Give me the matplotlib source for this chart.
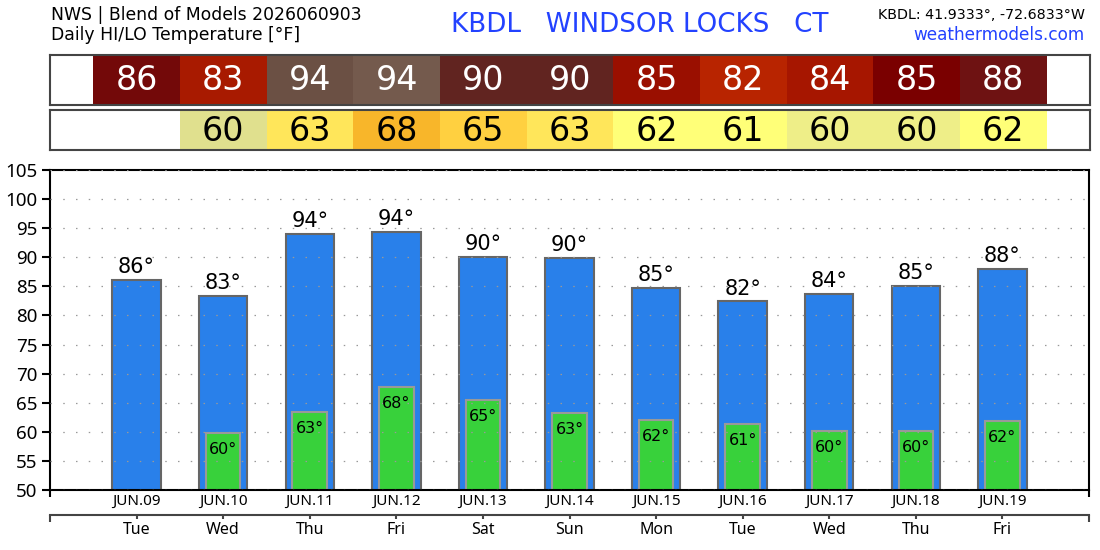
import matplotlib
matplotlib.use('Agg')
from matplotlib import pyplot as plt

# daily forecast, NWS blend of models
dates = ['JUN.09', 'JUN.10', 'JUN.11', 'JUN.12', 'JUN.13', 'JUN.14',
         'JUN.15', 'JUN.16', 'JUN.17', 'JUN.18', 'JUN.19']
days = ['Tue', 'Wed', 'Thu', 'Fri', 'Sat', 'Sun', 'Mon', 'Tue', 'Wed', 'Thu', 'Fri']
highs = [86.1, 83.3, 94.0, 94.4, 90.0, 89.9, 84.7, 82.4, 83.7, 85.1, 88.0]
lows = [None, 59.8, 63.4, 67.7, 65.4, 63.3, 62.0, 61.4, 60.2, 60.2, 61.8]

hi_colors = ['#730909', '#a81a00', '#6b5044', '#745a4d', '#612420', '#612420',
             '#9a0f00', '#b82400', '#a61600', '#7a0000', '#6e1212']
lo_colors = [None, '#e0e08e', '#ffe65a', '#f8b62a', '#ffd040', '#ffe65a',
             '#ffff78', '#ffff78', '#eeee88', '#eeee88', '#ffff78']

blue = '#2980ea'
green = '#38d13b'
title_blue = '#2342ff'
FONT = 'Noto Sans'
HEAD = 'DejaVu Sans'

x = list(range(len(dates)))
W, H = 1100, 550

fig = plt.figure(figsize=(11, 5.5), dpi=100)
ax = fig.add_axes([50/W, 60/H, 1039/W, 320/H])
ax_hi = fig.add_axes([50/W, (H-104.7)/H, 1040/W, 50/H])
ax_lo = fig.add_axes([50/W, (H-149.5)/H, 1040/W, 39.5/H])

# header texts
fig.text(51/W, 1-15/H, 'NWS | Blend of Models 2026060903', fontsize=12.4,
         family=HEAD, va='center', ha='left')
fig.text(51/W, 1-35/H, 'Daily HI/LO Temperature [°F]', fontsize=12.4,
         family=HEAD, va='center', ha='left')
fig.text(640/W, 1-25/H, 'KBDL   WINDSOR LOCKS   CT', fontsize=18.8,
         family=HEAD, color=title_blue, va='center', ha='center')
fig.text(1085/W, 1-15/H, 'KBDL: 41.9333°, -72.6833°W', fontsize=10.3,
         family=HEAD, va='center', ha='right')
fig.text(1085/W, 1-35/H, 'weathermodels.com', fontsize=12.2,
         family=HEAD, color=title_blue, va='center', ha='right')

# colour tables
for t in (ax_hi, ax_lo):
    t.set_xlim(-1, 11)
    t.set_ylim(0, 1)
    t.set_xticks([])
    t.set_yticks([])
    for s in t.spines.values():
        s.set_color('#444444')
        s.set_linewidth(1.5)

ax_hi.bar(x, 1, width=1, color=hi_colors, linewidth=0)
for xi, h in zip(x, highs):
    ax_hi.text(xi, 0.48, str(round(h)), color='white', fontsize=24,
               family=HEAD, ha='center', va='center')

lx = [xi for xi, l in zip(x, lows) if l is not None]
lv = [l for l in lows if l is not None]
lc = [c for c in lo_colors if c is not None]
ax_lo.bar(lx, 1, width=1, color=lc, linewidth=0)
for xi, l in zip(lx, lv):
    ax_lo.text(xi, 0.46, str(round(l)), color='black', fontsize=24,
               family=HEAD, ha='center', va='center')

# main chart
ax.bar(x, highs, width=0.56, color=blue, edgecolor='#666666', linewidth=1.5, zorder=1)
ax.bar(lx, lv, width=0.4, color=green, edgecolor='#999999', linewidth=1.5, zorder=1.1)
for xi, h in zip(x, highs):
    ax.annotate(f'{round(h)}°', (xi, h), xytext=(0, 2), textcoords='offset points',
                ha='center', va='bottom', fontsize=15, family='DejaVu Sans')
for xi, l in zip(lx, lv):
    ax.annotate(f'{round(l)}°', (xi, l), xytext=(0, -6.5), textcoords='offset points',
                ha='center', va='top', fontsize=11.5, family='DejaVu Sans')

ax.set_xlim(-1, 11)
ax.set_ylim(50, 105)
ax.set_yticks(range(50, 106, 5))
ax.grid(axis='y', color='#999999', linewidth=0.9, linestyle=(0, (1.2, 9)))
ax.set_axisbelow(False)
for s in ax.spines.values():
    s.set_linewidth(1.5)
ax.tick_params(axis='y', length=6, width=1.5, labelsize=13.5, pad=3)
for lab in ax.get_yticklabels():
    lab.set_family(FONT)

ax.set_xticks([-1, 11], labels=['', ''])
ax.set_xticks(x, labels=dates, minor=True)
ax.tick_params(axis='x', which='major', length=5, width=1.5)
ax.tick_params(axis='x', which='minor', length=0, pad=3, labelsize=11)
for lab in ax.get_xticklabels(minor=True):
    lab.set_family(FONT)

sec = ax.secondary_xaxis(-25/320)
sec.set_xticks(x, labels=days)
sec.set_xticks([-1, 11], minor=True)
sec.spines['bottom'].set_color('#444444')
sec.spines['bottom'].set_linewidth(1.5)
sec.tick_params(which='major', length=3, width=1.5, color='#444444', pad=2, labelsize=11.5)
sec.tick_params(which='minor', length=5, width=1.5, color='#444444')
for lab in sec.get_xticklabels():
    lab.set_family(FONT)

fig.savefig('out.png', dpi=100)
